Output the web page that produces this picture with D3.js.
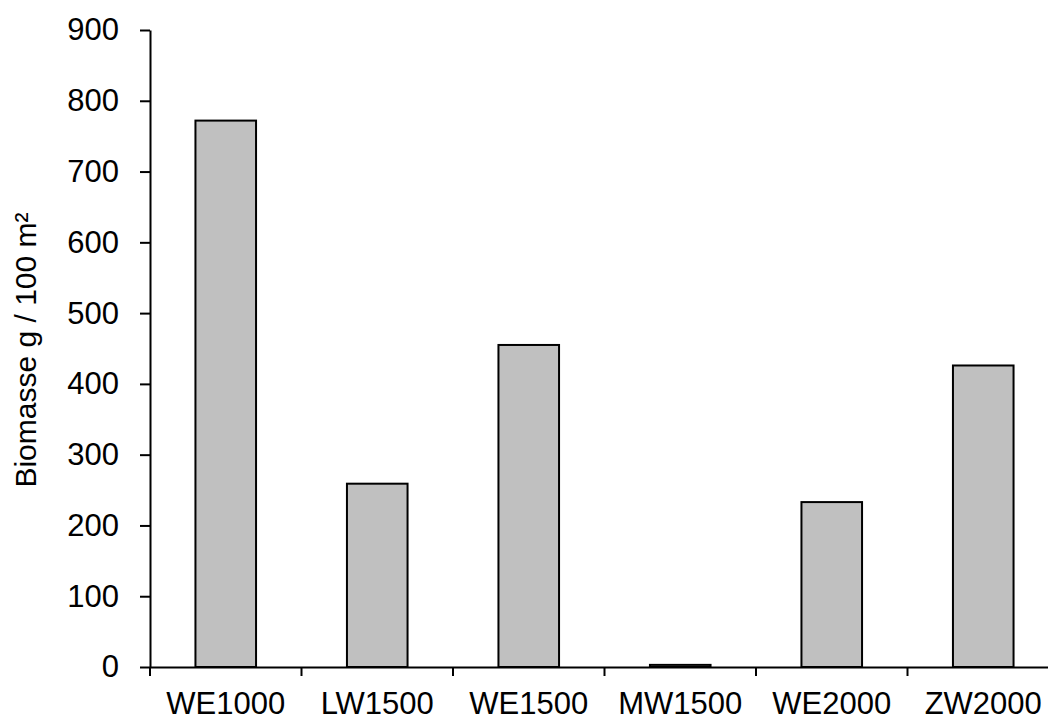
<!DOCTYPE html>
<html><head><meta charset="utf-8">
<script src="https://cdn.jsdelivr.net/npm/d3@7"></script>
<style>body{margin:0;background:#fff}</style>
</head><body>
<svg id="c" width="1048" height="720"></svg>
<script>
const categories = ["WE1000","LW1500","WE1500","MW1500","WE2000","ZW2000"];
const values = [772, 259, 455, 3, 233, 426];
const yTicks = [0,100,200,300,400,500,600,700,800,900];
const yLabel = "Biomasse g / 100 m²";

const svg = d3.select("#c");
const m = {l:150, t:30, b:53};
const W = 1048, H = 720;
const xRight = 1059;
const x = d3.scaleBand().domain(categories).range([m.l, xRight]).paddingInner(0.6).paddingOuter(0.3);
const xb = d3.scaleBand().domain(categories).range([m.l, xRight]);
const y = d3.scaleLinear().domain([0,900]).range([H - m.b, m.t]);
const font = "Liberation Sans, Arial, sans-serif";

svg.selectAll("rect.bar").data(values).enter().append("rect")
  .attr("x",(d,i)=>x(categories[i]))
  .attr("width",x.bandwidth())
  .attr("y",d=>y(d))
  .attr("height",d=>y(0)-y(d))
  .attr("fill","#c0c0c0").attr("stroke","#000").attr("stroke-width",2);

// y axis
const ya = svg.append("g").attr("transform",`translate(${m.l},0)`)
  .call(d3.axisLeft(y).tickValues(yTicks).tickSize(10).tickPadding(21).tickSizeOuter(0));
ya.select(".domain").attr("stroke","#000").attr("stroke-width",2);
ya.selectAll(".tick line").attr("stroke","#000").attr("stroke-width",2);
ya.selectAll(".tick text").attr("font-family",font).attr("font-size",31).attr("fill","#000");

// x axis
const xa = svg.append("g").attr("transform",`translate(0,${y(0)})`)
  .call(d3.axisBottom(xb).tickSize(0).tickPadding(25).tickSizeOuter(0));
xa.select(".domain").attr("stroke","#000").attr("stroke-width",2);
xa.selectAll(".tick text").attr("font-family",font).attr("font-size",31).attr("fill","#000");
// boundary ticks between categories
const bounds = categories.map(c=>xb(c)).concat([xRight]);
svg.append("g").selectAll("line").data(bounds).enter().append("line")
  .attr("x1",d=>d).attr("x2",d=>d).attr("y1",y(0)).attr("y2",y(0)+9)
  .attr("stroke","#000").attr("stroke-width",2);

svg.append("text").attr("transform",`translate(36,350) rotate(-90)`)
  .attr("text-anchor","middle").attr("font-family",font).attr("font-size",30).attr("fill","#000")
  .text(yLabel);
</script>
</body></html>
